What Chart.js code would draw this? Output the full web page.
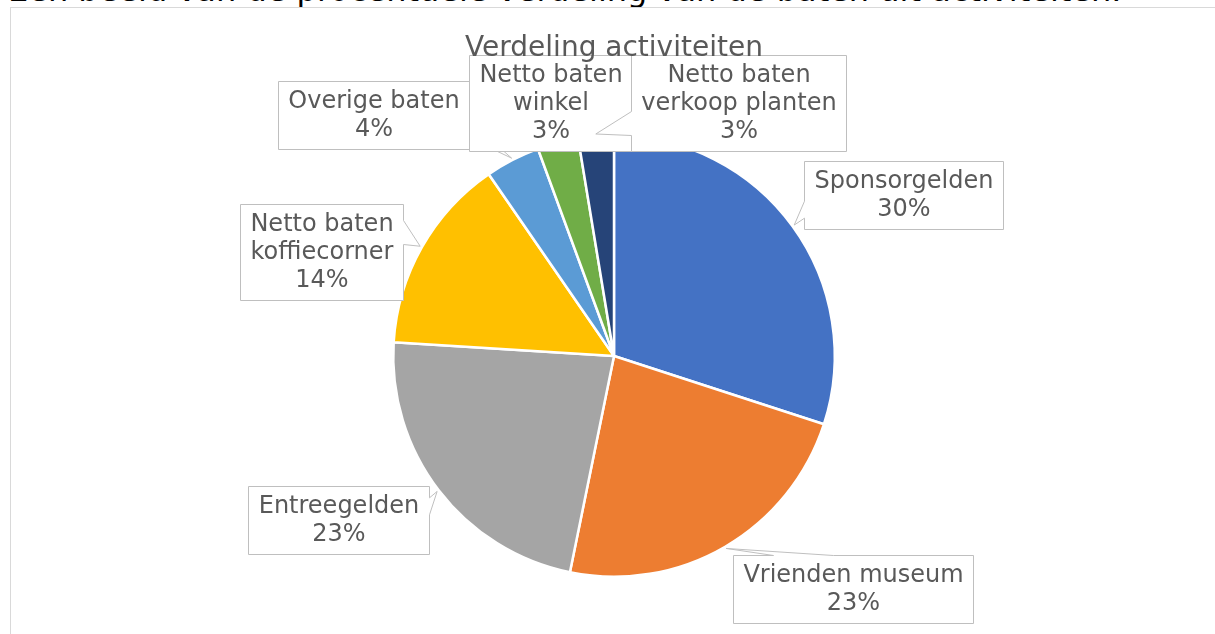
<!DOCTYPE html>
<html>
<head>
<meta charset="utf-8">
<script src="https://cdn.jsdelivr.net/npm/chart.js@4.4.0/dist/chart.umd.min.js"></script>
<style>
  html, body { margin: 0; padding: 0; background: #fff; overflow: hidden; }
  body { width: 1215px; height: 634px; position: relative; font-family: "DejaVu Sans", Verdana, sans-serif; }
  #heading { position: absolute; left: 8px; top: -26px; font-size: 32px; line-height: 32px; color: #000; white-space: nowrap; }
  #frame { position: absolute; left: 10px; top: 7px; right: 0; bottom: -2px; border-top: 1px solid #d9d9d9; border-left: 1px solid #d9d9d9; }
  #wrap { position: absolute; left: 0; top: 0; width: 1215px; height: 634px; }
</style>
</head>
<body>
<div id="heading">Een beeld van de procentuele verdeling van de baten uit activiteiten.</div>
<div id="frame"></div>
<div id="wrap"><canvas id="pie"></canvas></div>
<script>
const chartTitle = 'Verdeling activiteiten';
const categories = ['Sponsorgelden', 'Vrienden museum', 'Entreegelden', ['Netto baten', 'koffiecorner'],
    'Overige baten', ['Netto baten', 'winkel'], ['Netto baten', 'verkoop planten']];
const shares = [30, 23.2, 22.8, 14.4, 4.0, 3.0, 2.6];
const sliceColors = ['#4472C4', '#ED7D31', '#A5A5A5', '#FFC000', '#5B9BD5', '#70AD47', '#264478'];
// callout box centre, relative to the point where its pointer touches the slice
const labelShift = [[109, -30], [127, 41], [-99, 29], [-99, 6], [-138, -43], [-7, -38], [143, -31]];

// rectangle with a wedge towards (tx, ty), like the office "wedgeRectCallout"
function calloutPath(ctx, x, y, w, h, tx, ty) {
    const dx = tx - (x + w / 2), dy = ty - (y + h / 2);
    const inside = tx >= x && tx <= x + w && ty >= y && ty <= y + h;
    const side = inside ? '' : (Math.abs(dx * h) > Math.abs(dy * w) ? (dx > 0 ? 'r' : 'l') : (dy > 0 ? 'b' : 't'));
    const fx = dx > 0 ? [7, 10] : [2, 5], fy = dy > 0 ? [7, 10] : [2, 5];
    ctx.beginPath();
    ctx.moveTo(x, y);
    if (side === 't') { ctx.lineTo(x + w * fx[0] / 12, y); ctx.lineTo(tx, ty); ctx.lineTo(x + w * fx[1] / 12, y); }
    ctx.lineTo(x + w, y);
    if (side === 'r') { ctx.lineTo(x + w, y + h * fy[0] / 12); ctx.lineTo(tx, ty); ctx.lineTo(x + w, y + h * fy[1] / 12); }
    ctx.lineTo(x + w, y + h);
    if (side === 'b') { ctx.lineTo(x + w * fx[1] / 12, y + h); ctx.lineTo(tx, ty); ctx.lineTo(x + w * fx[0] / 12, y + h); }
    ctx.lineTo(x, y + h);
    if (side === 'l') { ctx.lineTo(x, y + h * fy[1] / 12); ctx.lineTo(tx, ty); ctx.lineTo(x, y + h * fy[0] / 12); }
    ctx.closePath();
}

const callouts = {
    id: 'callouts',
    afterDatasetsDraw(chart) {
        const ctx = chart.ctx, meta = chart.getDatasetMeta(0);
        const total = shares.reduce((a, b) => a + b, 0);
        ctx.save();
        ctx.font = '24px "DejaVu Sans"';
        meta.data.forEach((arc, i) => {
            const p = arc.getProps(['x', 'y', 'startAngle', 'endAngle', 'outerRadius'], true);
            const mid = (p.startAngle + p.endAngle) / 2;
            const tx = p.x + Math.cos(mid) * (p.outerRadius + 2);
            const ty = p.y + Math.sin(mid) * (p.outerRadius + 2);
            const lines = [].concat(categories[i], Math.round(shares[i] / total * 100) + '%');
            const w = Math.round(Math.max(...lines.map(s => ctx.measureText(s).width)) + 20);
            const h = lines.length * 28 + 12;
            const bx = Math.round(tx + labelShift[i][0] - w / 2) + 0.5;
            const by = Math.round(ty + labelShift[i][1] - h / 2) + 0.5;
            calloutPath(ctx, bx, by, w, h, tx, ty);
            ctx.fillStyle = '#fff'; ctx.fill();
            ctx.strokeStyle = '#bfbfbf'; ctx.lineWidth = 1; ctx.stroke();
            ctx.fillStyle = '#595959'; ctx.textAlign = 'center'; ctx.textBaseline = 'middle';
            lines.forEach((s, k) => ctx.fillText(s, bx + w / 2, by + 6 + 14 + k * 28));
        });
        ctx.restore();
    },
    afterDraw(chart) {
        const ctx = chart.ctx, a = chart.chartArea;
        ctx.save();
        ctx.font = '28px "DejaVu Sans"';
        ctx.fillStyle = '#595959'; ctx.textAlign = 'center'; ctx.textBaseline = 'alphabetic';
        ctx.fillText(chartTitle, (a.left + a.right) / 2, 56);
        ctx.restore();
    }
};

new Chart(document.getElementById('pie'), {
    type: 'pie',
    data: {
        labels: categories,
        datasets: [{ data: shares, backgroundColor: sliceColors, borderColor: '#fff', borderWidth: 2.5 }]
    },
    options: {
        responsive: true, maintainAspectRatio: false, animation: false,
        layout: { padding: { left: 392, right: 379, top: 134, bottom: 56 } },
        plugins: { legend: { display: false }, tooltip: { enabled: false }, title: { display: false } }
    },
    plugins: [callouts]
});
</script>
</body>
</html>
